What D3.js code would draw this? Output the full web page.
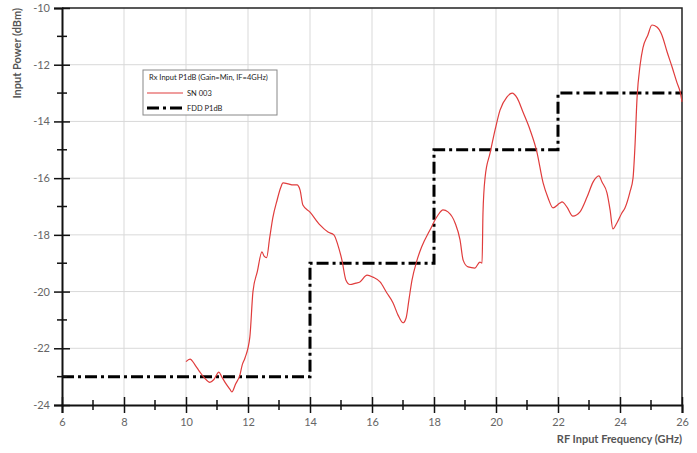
<!DOCTYPE html>
<html><head><meta charset="utf-8">
<script src="https://cdn.jsdelivr.net/npm/d3@7"></script>
<style>body{margin:0;background:#fff}svg{display:block}</style>
</head><body><svg id="c" width="697" height="453"></svg>
<script>
const freqSN = [10.0,10.13,10.3,10.45,10.6,10.77,10.9,11.06,11.15,11.26,11.42,11.48,11.6,11.74,11.81,11.9,12.06,12.16,12.3,12.45,12.52,12.6,12.7,12.8,12.94,13.05,13.13,13.3,13.45,13.58,13.68,13.77,14.0,14.32,14.58,14.77,14.9,15.03,15.16,15.29,15.48,15.61,15.84,16.03,16.26,16.48,16.68,16.84,17.0,17.1,17.19,17.29,17.45,17.6,17.87,18.13,18.29,18.45,18.68,18.84,18.94,19.1,19.32,19.48,19.55,19.58,19.65,19.81,19.97,20.13,20.35,20.52,20.68,20.87,21.1,21.32,21.52,21.68,21.84,22.06,22.13,22.29,22.48,22.71,22.94,23.13,23.32,23.42,23.58,23.68,23.77,23.9,24.06,24.16,24.32,24.42,24.48,24.55,24.65,24.74,24.9,25.03,25.19,25.35,25.52,25.68,25.84,25.94,26.0];
const pwrSN  = [-22.47,-22.38,-22.6,-22.84,-23.05,-23.2,-23.1,-22.84,-23.0,-23.2,-23.45,-23.54,-23.26,-22.94,-22.6,-22.35,-21.6,-20.0,-19.3,-18.6,-18.75,-18.8,-18.1,-17.4,-16.77,-16.35,-16.17,-16.2,-16.24,-16.24,-16.42,-16.95,-17.2,-17.65,-17.9,-18.0,-18.36,-18.89,-19.6,-19.75,-19.7,-19.66,-19.42,-19.49,-19.66,-20.05,-20.4,-20.83,-21.1,-20.93,-20.3,-19.6,-18.9,-18.43,-17.83,-17.3,-17.12,-17.19,-17.58,-18.18,-18.89,-19.13,-19.17,-18.96,-19.0,-17.23,-15.96,-15.11,-14.3,-13.6,-13.14,-13.0,-13.17,-13.67,-14.3,-15.08,-16.17,-16.7,-17.05,-16.88,-16.84,-17.02,-17.34,-17.19,-16.66,-16.14,-15.92,-16.14,-16.52,-17.12,-17.79,-17.58,-17.23,-17.05,-16.49,-16.0,-14.94,-13.17,-12.0,-11.41,-10.95,-10.6,-10.67,-10.95,-11.55,-12.08,-12.64,-12.96,-13.31];
const freqFDD = [6,14,14,18,18,22,22,26];
const pwrFDD  = [-23,-23,-19,-19,-15,-15,-13,-13];
const xTicks = [6,8,10,12,14,16,18,20,22,24,26];
const yTicks = [-10,-12,-14,-16,-18,-20,-22,-24];
const seriesNames = ["SN 003","FDD P1dB"];
const legendTitle = "Rx Input P1dB (Gain=Min, IF=4GHz)";

const svg = d3.select("#c");
const font = "Lato, 'Open Sans', sans-serif";
const L=62,R=682,T=8,B=405;
const x = d3.scaleLinear().domain([6,26]).range([L,R]);
const y = d3.scaleLinear().domain([-24,-10]).range([B,T]);

// grid
svg.append("g").selectAll("line").data(xTicks.slice(1,-1)).join("line")
  .attr("x1",d=>x(d)).attr("x2",d=>x(d)).attr("y1",T).attr("y2",B)
  .attr("stroke","#d9d9d9").attr("stroke-width",1);
svg.append("g").selectAll("line").data(yTicks.slice(1,-1)).join("line")
  .attr("y1",d=>y(d)).attr("y2",d=>y(d)).attr("x1",L).attr("x2",R)
  .attr("stroke","#d9d9d9").attr("stroke-width",1);

// frame top/right
svg.append("path").attr("d",`M${L},${T}H${R}V${B}`).attr("fill","none").attr("stroke","#222").attr("stroke-width",1.5);

// FDD step line
const line = d3.line().x(d=>x(d[0])).y(d=>y(d[1]));
svg.append("path").datum(freqFDD.map((f,i)=>[f,pwrFDD[i]]))
  .attr("d",line).attr("fill","none").attr("stroke","#000").attr("stroke-width",3)
  .attr("stroke-dasharray","12,4,3,4");

// SN curve
svg.append("path").datum(freqSN.map((f,i)=>[f,pwrSN[i]]))
  .attr("d",line.curve(d3.curveMonotoneX)).attr("fill","none").attr("stroke","#e03c3c").attr("stroke-width",1.2);

// axes
const xAx = d3.axisBottom(x).tickValues(xTicks).tickSize(8).tickFormat(d3.format("d"));
const gx = svg.append("g").attr("transform",`translate(0,${B})`).call(xAx);
const yAx = d3.axisLeft(y).tickValues(yTicks).tickSize(8).tickFormat(d3.format("d"));
const gy = svg.append("g").attr("transform",`translate(${L},0)`).call(yAx);
[gx,gy].forEach(g=>{
  g.select(".domain").attr("stroke","#111").attr("stroke-width",2);
  g.selectAll(".tick line").attr("stroke","#111").attr("stroke-width",1.5);
  g.selectAll("text").attr("fill","#666").style("font-family",font).style("font-size","11px");
});
gx.selectAll(".tick line").attr("y1",-8).attr("y2",8);
gx.selectAll(".tick text").attr("y",13);
gy.selectAll(".tick line").attr("x1",8).attr("x2",-8);
gy.selectAll(".tick text").attr("x",-12).text(d=>d===0?"0":"-"+Math.abs(d));
// minor ticks
const minorX = d3.range(7,26,2), minorY = d3.range(-23,-10,2);
svg.append("g").selectAll("line").data(minorX).join("line")
  .attr("x1",d=>x(d)).attr("x2",d=>x(d)).attr("y1",B-5).attr("y2",B+5).attr("stroke","#111").attr("stroke-width",1.5);
svg.append("g").selectAll("line").data(minorY).join("line")
  .attr("y1",d=>y(d)).attr("y2",d=>y(d)).attr("x1",L-5).attr("x2",L+5).attr("stroke","#111").attr("stroke-width",1.5);

// axis titles
svg.append("text").attr("transform","translate(21,8) rotate(-90)").attr("text-anchor","end")
  .style("font-family",font).style("font-size","11px").style("font-weight","bold").attr("fill","#555")
  .text("Input Power (dBm)");
svg.append("text").attr("x",R).attr("y",443).attr("text-anchor","end")
  .style("font-family",font).style("font-size","11px").style("font-weight","bold").attr("fill","#555")
  .text("RF Input Frequency (GHz)");

// legend
const lg = svg.append("g");
lg.append("rect").attr("x",143).attr("y",70).attr("width",134).attr("height",45)
  .attr("fill","#fff").attr("stroke","#888").attr("stroke-width",1);
lg.append("text").attr("x",149).attr("y",80).style("font-family",font).style("font-size","7.5px").attr("fill","#222").text(legendTitle);
lg.append("line").attr("x1",147).attr("x2",183).attr("y1",93).attr("y2",93).attr("stroke","#e03c3c").attr("stroke-width",1.2);
lg.append("text").attr("x",187).attr("y",95.5).style("font-family",font).style("font-size","7.5px").attr("fill","#222").text(seriesNames[0]);
lg.append("line").attr("x1",147).attr("x2",183).attr("y1",108).attr("y2",108).attr("stroke","#000").attr("stroke-width",3).attr("stroke-dasharray","12,4,3,4");
lg.append("text").attr("x",187).attr("y",110.5).style("font-family",font).style("font-size","7.5px").attr("fill","#222").text(seriesNames[1]);
</script></body></html>
